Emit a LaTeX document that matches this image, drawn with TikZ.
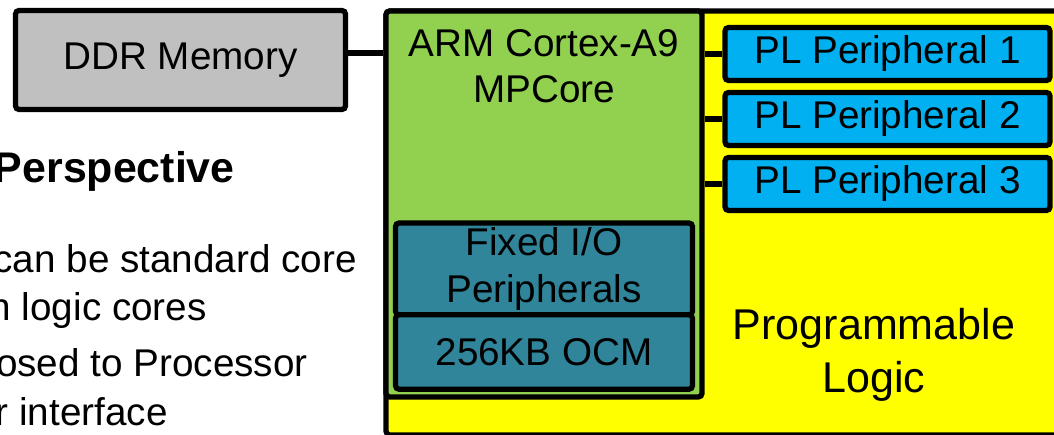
\documentclass[tikz,border=0pt]{standalone}
\usepackage{fontspec}
\setmainfont{Liberation Sans}
\usetikzlibrary{positioning}

\definecolor{ddrgray}{RGB}{192,192,192}
\definecolor{psgreen}{RGB}{146,208,80}
\definecolor{plyellow}{RGB}{255,255,0}
\definecolor{periblue}{RGB}{0,176,240}
\definecolor{fioteal}{RGB}{49,133,155}

\begin{document}
\begin{tikzpicture}[x=0.02cm, y=-0.02cm,
    blk/.style={draw, line width=3pt, rounded corners=2pt, inner sep=0pt, align=center,
      font=\fontsize{22}{26.5}\selectfont},
    txt/.style={inner sep=0pt, align=center, font=\fontsize{22}{26.5}\selectfont},
    bus/.style={line width=3pt}]
    \useasboundingbox (0,0) rectangle (1054,435);
    \clip (0,0) rectangle (1054,435);

    % Slide text (left)
    \node[txt, anchor=base east, font=\bfseries\fontsize{24.4}{29}\selectfont] (persp) at (235,183) {Perspective};
    \node[txt, anchor=base east] (bul1) at (357,273) {can be standard core};
    \node[txt, anchor=base east] (bul2) at (207,320) {n logic cores};
    \node[txt, anchor=base east] (bul3) at (308,377) {osed to Processor};
    \node[txt, anchor=base east] (bul4) at (168,425) {r interface};

    % Memory
    \node[blk, fill=ddrgray, minimum width=6.6cm, minimum height=1.98cm] (ddr) at (180.5,60) {DDR Memory};

    % Programmable Logic
    \node[blk, fill=plyellow, minimum width=13.78cm, minimum height=8.48cm] (pl) at (730.5,223) {};
    \node[txt, font=\fontsize{24.5}{30}\selectfont] (pllbl) at (874,355) {Programmable\\Logic};

    % Processing System
    \node[blk, fill=psgreen, minimum width=6.32cm, minimum height=7.72cm] (arm) at (544,204) {};
    \node[txt] (armlbl) at (544,66) {ARM Cortex-A9\\MPCore};
    \node[blk, fill=fioteal, minimum width=5.94cm, minimum height=1.84cm] (fio) at (544,269) {Fixed I/O\\Peripherals};
    \node[blk, fill=fioteal, minimum width=5.94cm, minimum height=1.49cm] (ocm) [below of=fio, node distance=1.66cm] {256KB OCM};

    % PL Peripherals
    \node[blk, fill=periblue, minimum width=6.5cm, minimum height=1.06cm] (plp1) at (887.5,54) {PL Peripheral 1};
    \node[blk, fill=periblue, minimum width=6.5cm, minimum height=1.06cm] (plp2) [below of=plp1, node distance=1.3cm] {PL Peripheral 2};
    \node[blk, fill=periblue, minimum width=6.5cm, minimum height=1.06cm] (plp3) [below of=plp2, node distance=1.3cm] {PL Peripheral 3};

    % Connections
    \draw[bus] ([yshift=4pt]ddr.east) -- ([yshift=4pt]ddr.east -| arm.west);
    \draw[bus] (plp1.west -| arm.east) -- (plp1.west);
    \draw[bus] (plp2.west -| arm.east) -- (plp2.west);
    \draw[bus] (plp3.west -| arm.east) -- (plp3.west);
\end{tikzpicture}
\end{document}
